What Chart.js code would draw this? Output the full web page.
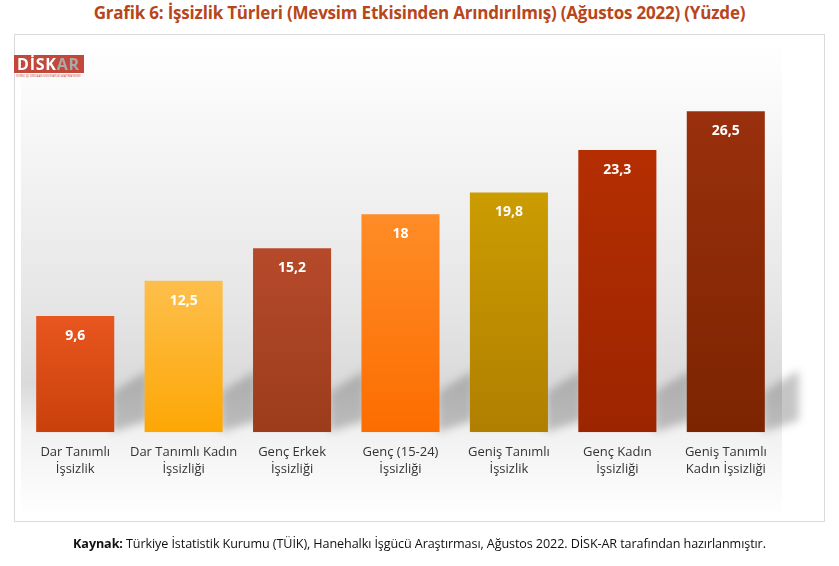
<!DOCTYPE html>
<html><head><meta charset="utf-8">
<script src="https://cdn.jsdelivr.net/npm/chart.js@4/dist/chart.umd.min.js"></script>
<style>
html,body{margin:0;padding:0;background:#fff;width:839px;height:566px;overflow:hidden;font-family:"Open Sans","Noto Sans",sans-serif;}
#title{position:absolute;left:0;top:1px;width:839px;text-align:center;font-weight:bold;font-size:17px;color:#b8461b;letter-spacing:-0.2px;}
#box{position:absolute;left:14px;top:34px;width:809px;height:486px;border:1px solid #d9d9d9;}
#wrap{position:absolute;left:0;top:0;width:839px;height:566px;}
#logo{position:absolute;left:14px;top:55px;width:70px;height:18px;background:#c2483b;font-weight:bold;font-size:16px;line-height:18px;padding-left:3px;box-sizing:border-box;color:#fff;letter-spacing:0.8px;}
#logo span{color:#a9a9a9;}
#logosub{position:absolute;left:16px;top:74px;font-size:4px;color:#c2483b;white-space:nowrap;transform-origin:0 0;transform:scale(0.5,0.8);}
#foot{position:absolute;left:0;top:535px;width:839px;text-align:center;font-size:12.6px;color:#111;letter-spacing:-0.1px;}
</style></head>
<body>
<div id="title">Grafik 6: İşsizlik Türleri (Mevsim Etkisinden Arındırılmış) (Ağustos 2022) (Yüzde)</div>
<div id="box"></div>
<div id="wrap"><canvas id="c" width="839" height="566"></canvas></div>
<div id="logo">DİSK<span>AR</span></div>
<div id="logosub">DEVRİMCİ İŞÇİ SENDİKALARI KONFEDERASYONU ARAŞTIRMA MERKEZİ</div>
<div id="foot"><b>Kaynak:</b> Türkiye İstatistik Kurumu (TÜİK), Hanehalkı İşgücü Araştırması, Ağustos 2022. DİSK-AR tarafından hazırlanmıştır.</div>
<script>
const categories = [
  ["Dar Tanımlı","İşsizlik"],
  ["Dar Tanımlı Kadın","İşsizliği"],
  ["Genç Erkek","İşsizliği"],
  ["Genç (15-24)","İşsizliği"],
  ["Geniş Tanımlı","İşsizlik"],
  ["Genç Kadın","İşsizliği"],
  ["Geniş Tanımlı","Kadın İşsizliği"]
];
const values = [9.6, 12.5, 15.2, 18, 19.8, 23.3, 26.5];
const topColors = ["#e9561f","#fdbf4c","#b64a2b","#ff8c27","#cc9c02","#b52e02","#9a300d"];
const bottomColors = ["#c9400b","#fda705","#9b3c1b","#fc6d00","#b07f00","#9c2500","#7c2400"];

function grad(ctx, i){
  const chart = ctx.chart;
  const ca = chart.chartArea;
  const ys = chart.scales && chart.scales.y;
  if(!ca || !ys) return topColors[i];
  const top = ys.getPixelForValue(values[i]);
  const bot = ys.getPixelForValue(0);
  if(!isFinite(top) || !isFinite(bot) || top === bot) return topColors[i];
  const g = chart.ctx.createLinearGradient(0, top, 0, bot);
  g.addColorStop(0, topColors[i]);
  g.addColorStop(1, bottomColors[i]);
  return g;
}

const bgPlugin = {
  id:'bg',
  beforeDraw(chart){
    const {ctx, chartArea:ca} = chart;
    ctx.save();
    const g = ctx.createLinearGradient(0, 40, 0, 518);
    g.addColorStop(0, '#ffffff');
    g.addColorStop(0.55, '#e6e6e6');
    g.addColorStop(0.72, '#dadada');
    g.addColorStop(0.82, '#f1f1f1');
    g.addColorStop(1, '#ffffff');
    ctx.fillStyle = g;
    ctx.fillRect(ca.left, 40, ca.right - ca.left + 2, 478);
    ctx.restore();
  },
  beforeDatasetsDraw(chart){
    const {ctx} = chart;
    ctx.save();
    const meta = chart.getDatasetMeta(0);
    ctx.filter = 'blur(4px)';
    meta.data.forEach(el => {
      const r = el.x + el.width/2;
      const base = el.base;
      ctx.beginPath();
      ctx.moveTo(r - 2, base);
      ctx.lineTo(r - 2, base - 40);
      ctx.lineTo(r + 34, base - 62);
      ctx.lineTo(r + 34, base - 12);
      ctx.closePath();
      ctx.fillStyle = 'rgba(110,110,110,0.4)';
      ctx.fill();
    });
    ctx.filter = 'none';
    ctx.restore();
  }
};

const labelPlugin = {
  id:'vals',
  afterDatasetsDraw(chart){
    const {ctx} = chart;
    const meta = chart.getDatasetMeta(0);
    ctx.save();
    ctx.fillStyle = '#ffffff';
    ctx.font = 'bold 14px "Open Sans", "Noto Sans", sans-serif';
    ctx.textAlign = 'center';
    ctx.textBaseline = 'middle';
    meta.data.forEach((el,i) => {
      ctx.fillText(String(values[i]).replace('.', ','), el.x, el.y + 20);
    });
    ctx.restore();
  }
};

new Chart(document.getElementById('c'), {
  type:'bar',
  data:{
    labels: categories,
    datasets:[{
      data: values,
      backgroundColor: (ctx) => grad(ctx, ctx.dataIndex),
      borderWidth:0,
      categoryPercentage:1,
      barPercentage:0.72
    }]
  },
  options:{
    responsive:false,
    animation:false,
    events:[],
    layout:{padding:{left:21, right:59, top:69, bottom:76}},
    plugins:{legend:{display:false}, tooltip:{enabled:false}},
    scales:{
      x:{
        grid:{display:false, drawTicks:false},
        border:{display:false},
        ticks:{color:'#333', padding:12, font:{family:'"Open Sans", "Noto Sans", sans-serif', size:13, lineHeight:1.3}, maxRotation:0, autoSkip:false}
      },
      y:{
        display:false,
        min:0, max:30
      }
    }
  },
  plugins:[bgPlugin, labelPlugin]
});
</script>
</body></html>
